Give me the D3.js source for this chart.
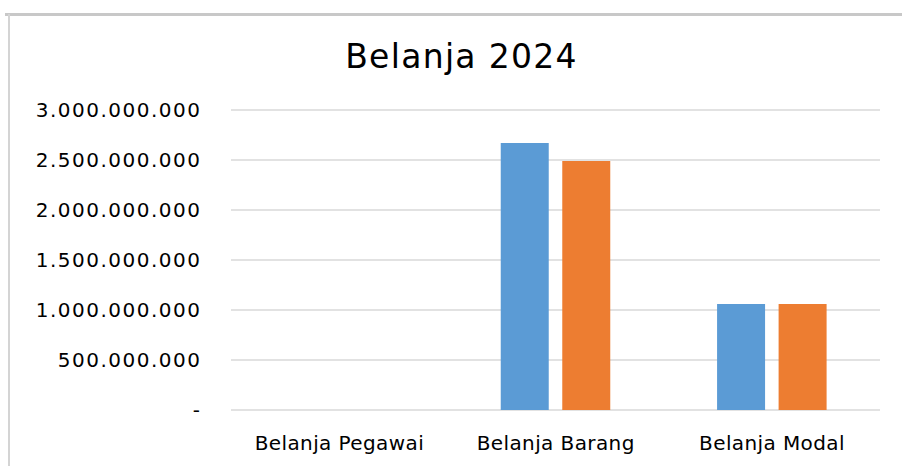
<!DOCTYPE html>
<html><head><meta charset="utf-8">
<script src="https://cdn.jsdelivr.net/npm/d3@7"></script>
<style>body{margin:0;background:#fff}svg{display:block}</style>
</head><body><svg id="c" width="902" height="466"></svg>
<script>
const categories = ["Belanja Pegawai", "Belanja Barang", "Belanja Modal"];
const series1 = [0, 2670000000, 1060000000];
const series2 = [0, 2490000000, 1060000000];
const yTicks = [0, 500000000, 1000000000, 1500000000, 2000000000, 2500000000, 3000000000];
const title = "Belanja 2024";

const svg = d3.select("#c");
const W = 902, H = 466;
svg.append("rect").attr("width", W).attr("height", H).attr("fill", "#fff");
// frame
svg.append("line").attr("x1", 5).attr("x2", W).attr("y1", 14.5).attr("y2", 14.5).attr("stroke", "#c8c8c8").attr("stroke-width", 3);
svg.append("line").attr("x1", 9).attr("x2", 9).attr("y1", 14).attr("y2", H).attr("stroke", "#d4d4d4").attr("stroke-width", 2);

const m = {l: 231, r: 880, t: 110, b: 410};
const x = d3.scaleBand().domain(categories).range([m.l, m.r]).paddingInner(0).paddingOuter(0);
const y = d3.scaleLinear().domain([0, 3000000000]).range([m.b, m.t]);
const fmt = v => v === 0 ? "-" : d3.format(",")(v).replace(/,/g, ".");

const font = "'DejaVu Sans', Verdana, sans-serif";
const g = svg.append("g");
g.selectAll("line.grid").data(yTicks).join("line").attr("class", "grid")
  .attr("x1", m.l).attr("x2", m.r).attr("y1", d => y(d)).attr("y2", d => y(d))
  .attr("stroke", "#d9d9d9").attr("stroke-width", 1.5);

g.selectAll("text.yl").data(yTicks).join("text").attr("class", "yl")
  .attr("x", 201.5).attr("y", d => y(d)).attr("dy", "0.36em").attr("text-anchor", "end")
  .attr("font-family", font).attr("font-size", 20).attr("letter-spacing", 1.5).attr("fill", "#000").text(fmt);

const inner = d3.scaleBand().domain([0, 1]).range([0, x.bandwidth()]).paddingInner(0.22).paddingOuter(0.868);
const colors = ["#5b9bd5", "#ed7d31"];
[series1, series2].forEach((s, si) => {
  g.selectAll("rect.s" + si).data(s).join("rect").attr("class", "s" + si)
    .attr("x", (d, i) => x(categories[i]) + inner(si))
    .attr("width", inner.bandwidth())
    .attr("y", d => y(d)).attr("height", d => y(0) - y(d))
    .attr("fill", colors[si]);
});

g.selectAll("text.xl").data(categories).join("text").attr("class", "xl")
  .attr("x", d => x(d) + x.bandwidth() / 2 + 0.2).attr("y", 450).attr("text-anchor", "middle")
  .attr("font-family", font).attr("font-size", 20).attr("letter-spacing", 0.4).attr("fill", "#000").text(d => d);

svg.append("text").attr("x", 461.5).attr("y", 68).attr("text-anchor", "middle")
  .attr("font-family", font).attr("font-size", 33).attr("letter-spacing", 1.3).attr("fill", "#000").text(title);
</script></body></html>
